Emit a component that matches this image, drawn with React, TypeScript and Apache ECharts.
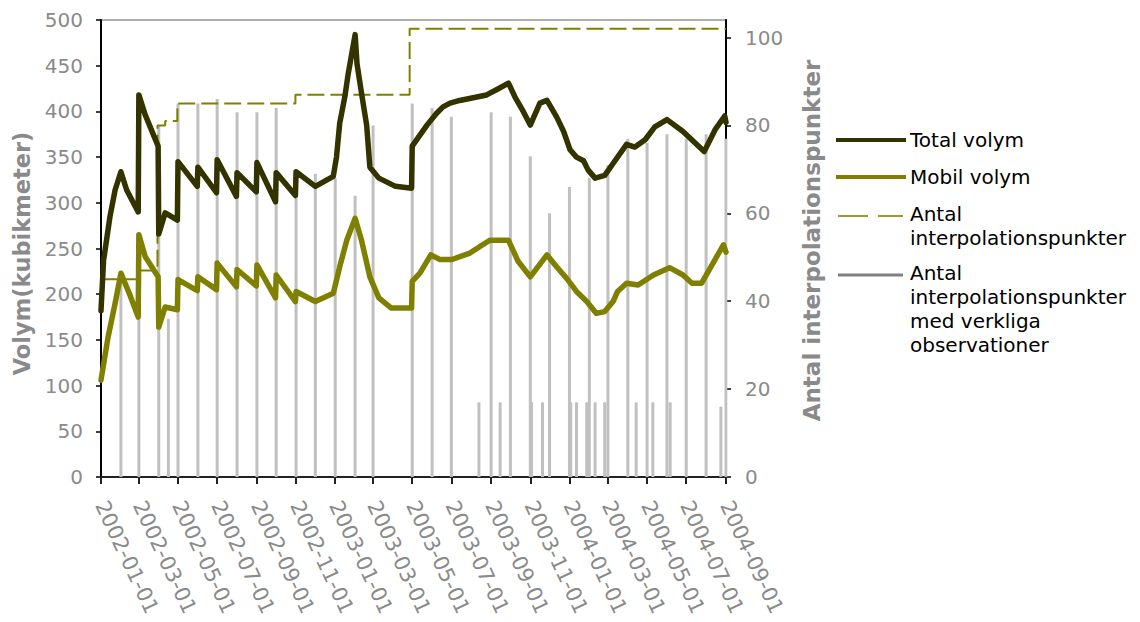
import React, { useEffect, useRef } from "react";
import * as echarts from "echarts";

// ---- Data ----
const totalVolym: [string, number][] = [
  ["2002-01-01", 182], ["2002-01-05", 237], ["2002-01-15", 285], ["2002-01-23", 314],
  ["2002-02-01", 334], ["2002-02-10", 314], ["2002-02-28", 290], ["2002-03-01", 418],
  ["2002-03-11", 396], ["2002-03-31", 362], ["2002-04-01", 266], ["2002-04-11", 289],
  ["2002-04-30", 281], ["2002-05-01", 345], ["2002-05-31", 318], ["2002-06-01", 339],
  ["2002-06-30", 311], ["2002-07-01", 347], ["2002-07-31", 307], ["2002-08-01", 333],
  ["2002-08-31", 312], ["2002-09-01", 344], ["2002-09-30", 301], ["2002-10-01", 333],
  ["2002-10-31", 308], ["2002-11-01", 334], ["2002-12-01", 318], ["2002-12-29", 329],
  ["2003-01-03", 350], ["2003-01-08", 387], ["2003-01-16", 416], ["2003-01-21", 440],
  ["2003-02-01", 484], ["2003-02-04", 452], ["2003-02-11", 420], ["2003-02-19", 385],
  ["2003-02-24", 339], ["2003-03-10", 327], ["2003-04-05", 318], ["2003-04-30", 316],
  ["2003-05-01", 362], ["2003-05-13", 374], ["2003-05-24", 385], ["2003-06-08", 398],
  ["2003-06-18", 405], ["2003-06-29", 409], ["2003-07-14", 412], ["2003-08-04", 415],
  ["2003-08-25", 418], ["2003-09-10", 424], ["2003-09-28", 431], ["2003-10-08", 416],
  ["2003-10-21", 400], ["2003-11-01", 385], ["2003-11-16", 409], ["2003-11-27", 412],
  ["2003-12-12", 394], ["2003-12-23", 378], ["2004-01-02", 358], ["2004-01-12", 350],
  ["2004-01-23", 346], ["2004-01-30", 336], ["2004-02-10", 327], ["2004-02-25", 330],
  ["2004-03-09", 343], ["2004-03-30", 364], ["2004-04-12", 361], ["2004-04-28", 369],
  ["2004-05-13", 383], ["2004-06-01", 391], ["2004-06-26", 378], ["2004-07-29", 356],
  ["2004-08-15", 380], ["2004-08-30", 395], ["2004-09-01", 388],
];

const mobilVolym: [string, number][] = [
  ["2002-01-01", 106], ["2002-01-12", 153], ["2002-01-23", 190], ["2002-02-01", 223],
  ["2002-02-14", 201], ["2002-02-28", 175], ["2002-03-01", 265], ["2002-03-11", 241],
  ["2002-03-31", 219], ["2002-04-01", 164], ["2002-04-11", 186], ["2002-04-30", 183],
  ["2002-05-01", 216], ["2002-05-31", 204], ["2002-06-01", 219], ["2002-06-30", 205],
  ["2002-07-01", 234], ["2002-07-31", 208], ["2002-08-01", 227], ["2002-08-31", 209],
  ["2002-09-01", 232], ["2002-09-30", 196], ["2002-10-01", 221], ["2002-10-31", 192],
  ["2002-11-01", 203], ["2002-12-01", 192], ["2002-12-29", 201], ["2003-01-08", 230],
  ["2003-01-19", 259], ["2003-02-01", 283], ["2003-02-11", 259], ["2003-02-24", 219],
  ["2003-03-10", 196], ["2003-03-29", 185], ["2003-04-30", 185], ["2003-05-01", 214],
  ["2003-05-13", 223], ["2003-05-30", 243], ["2003-06-13", 238], ["2003-07-02", 238],
  ["2003-07-30", 245], ["2003-08-14", 252], ["2003-08-30", 259], ["2003-09-28", 259],
  ["2003-10-13", 236], ["2003-11-01", 219], ["2003-11-27", 243], ["2003-12-12", 230],
  ["2003-12-28", 217], ["2004-01-12", 203], ["2004-01-28", 192], ["2004-02-12", 179],
  ["2004-02-25", 181], ["2004-03-09", 192], ["2004-03-16", 203], ["2004-03-30", 212],
  ["2004-04-17", 210], ["2004-05-11", 221], ["2004-06-05", 229], ["2004-06-26", 221],
  ["2004-07-10", 212], ["2004-07-25", 212], ["2004-08-28", 254], ["2004-09-01", 246],
];

const antalInterpolationspunkter: [string, number][] = [
  ["2002-01-01", 45], ["2002-03-01", 47], ["2002-03-30", 80], ["2002-04-11", 81],
  ["2002-04-30", 85], ["2002-10-31", 87], ["2003-04-27", 102], ["2004-09-01", 102],
];

const antalVerkliga: [string, number][] = [
  ["2002-02-01", 45], ["2002-03-01", 47], ["2002-04-01", 80], ["2002-04-16", 36],
  ["2002-05-01", 85], ["2002-06-01", 85], ["2002-07-01", 86], ["2002-08-01", 83],
  ["2002-09-01", 83], ["2002-10-01", 84], ["2002-11-01", 68], ["2002-12-01", 69],
  ["2003-01-01", 68], ["2003-02-01", 64], ["2003-03-01", 80], ["2003-05-01", 85],
  ["2003-06-01", 84], ["2003-07-01", 82], ["2003-08-13", 17], ["2003-09-01", 83],
  ["2003-09-15", 17], ["2003-10-01", 82], ["2003-11-01", 73], ["2003-11-03", 17],
  ["2003-11-20", 17], ["2003-12-01", 60], ["2004-01-01", 66], ["2004-01-03", 17],
  ["2004-01-12", 17], ["2004-01-28", 17], ["2004-02-01", 68], ["2004-02-10", 17],
  ["2004-02-25", 17], ["2004-03-01", 71], ["2004-04-01", 77], ["2004-04-14", 17],
  ["2004-05-01", 76], ["2004-05-10", 17], ["2004-06-01", 78], ["2004-06-06", 17],
  ["2004-07-01", 77], ["2004-08-01", 78], ["2004-08-24", 16], ["2004-09-01", 77],
];

const xTickDates = [
  "2002-01-01", "2002-03-01", "2002-05-01", "2002-07-01", "2002-09-01", "2002-11-01",
  "2003-01-01", "2003-03-01", "2003-05-01", "2003-07-01", "2003-09-01", "2003-11-01",
  "2004-01-01", "2004-03-01", "2004-05-01", "2004-07-01", "2004-09-01",
];
const rightTicks = [0, 20, 40, 60, 80, 100];

const seriesNames = {
  total: "Total volym",
  mobil: "Mobil volym",
  interp: "Antal\ninterpolationspunkter",
  obs: "Antal\ninterpolationspunkter\nmed verkliga\nobservationer",
};

const ts = (s: string) => {
  const [y, m, d] = s.split("-").map(Number);
  return Date.UTC(y, m - 1, d);
};
const pad = (n: number) => String(n).padStart(2, "0");
const fmt = (v: number) => {
  const d = new Date(v);
  return `${d.getUTCFullYear()}-${pad(d.getUTCMonth() + 1)}-${pad(d.getUTCDate())}`;
};

const FONT = "DejaVu Sans";
const GRAY = "#8a8a8a";
const DARK = "#333300";
const OLIVE = "#808000";

export default function App() {
  const ref = useRef<HTMLDivElement>(null);
  useEffect(() => {
    if (!ref.current) return;
    const chart = echarts.init(ref.current, null, { renderer: "svg" });
    const xTicks = xTickDates.map(ts);
    chart.setOption({
      animation: false,
      backgroundColor: "#ffffff",
      grid: {
        left: 101, right: 414, top: 20, bottom: 145,
        show: true, borderColor: "#b0b0b0", borderWidth: 2,
        outerBoundsMode: "none",
      },
      xAxis: {
        type: "value",
        min: ts("2002-01-01"),
        max: ts("2004-09-01"),
        axisLine: { show: true, onZero: false, lineStyle: { color: "#222", width: 2 } },
        axisTick: { show: true, length: 7, customValues: xTicks, lineStyle: { color: "#222", width: 2 } },
        splitLine: { show: false },
        axisLabel: {
          customValues: xTicks,
          formatter: (v: number) => fmt(v),
          rotate: -65,
          margin: 25,
          color: GRAY,
          fontFamily: FONT,
          fontSize: 21,
          showMinLabel: true,
          showMaxLabel: true,
          hideOverlap: false,
        },
      },
      yAxis: [
        {
          type: "value",
          min: 0, max: 500, interval: 50,
          position: "left",
          name: "Volym(kubikmeter)",
          nameLocation: "middle",
          nameGap: 66,
          nameTextStyle: {
            color: GRAY, fontFamily: FONT, fontSize: 22.5, fontWeight: "bold",
            padding: [0, 10, 0, 0],
          },
          axisLine: { show: true, lineStyle: { color: "#000", width: 2 } },
          axisTick: { show: true, length: 5, lineStyle: { color: "#000", width: 1.5 } },
          splitLine: { show: false },
          axisLabel: { color: GRAY, fontFamily: FONT, fontSize: 20, margin: 18 },
        },
        {
          type: "value",
          min: 0, max: 104,
          position: "right",
          name: "Antal interpolationspunkter",
          nameLocation: "middle",
          nameGap: 74,
          nameTextStyle: {
            color: GRAY, fontFamily: FONT, fontSize: 23, fontWeight: "bold",
            padding: [0, 0, 0, 16],
          },
          axisLine: { show: true, lineStyle: { color: "#000", width: 2 } },
          axisTick: { show: true, length: 5, customValues: rightTicks, lineStyle: { color: "#000", width: 1.5 } },
          splitLine: { show: false },
          axisLabel: { customValues: rightTicks, color: GRAY, fontFamily: FONT, fontSize: 20, margin: 19 },
        },
      ],
      series: [
        {
          name: seriesNames.obs,
          type: "bar",
          yAxisIndex: 1,
          barWidth: 3,
          itemStyle: { color: "#c0c0c0" },
          data: antalVerkliga.map(([d, v]) => [ts(d), v]),
        },
        {
          name: seriesNames.interp,
          type: "line",
          yAxisIndex: 1,
          step: "end",
          showSymbol: false,
          symbol: "none",
          lineStyle: { color: OLIVE, width: 2, type: [17, 6] },
          data: antalInterpolationspunkter.map(([d, v]) => [ts(d), v]),
        },
        {
          name: seriesNames.mobil,
          type: "line",
          yAxisIndex: 0,
          showSymbol: false,
          symbol: "none",
          lineStyle: { color: OLIVE, width: 5.5, cap: "round", join: "round" },
          data: mobilVolym.map(([d, v]) => [ts(d), v]),
        },
        {
          name: seriesNames.total,
          type: "line",
          yAxisIndex: 0,
          showSymbol: false,
          symbol: "none",
          lineStyle: { color: DARK, width: 5.5, cap: "round", join: "round" },
          data: totalVolym.map(([d, v]) => [ts(d), v]),
        },
      ],
      graphic: [
        { type: "line", shape: { x1: 836, y1: 140, x2: 906, y2: 140 }, style: { stroke: DARK, lineWidth: 4 } },
        { type: "text", x: 910, y: 140, style: { text: seriesNames.total, font: `20px '${FONT}'`, fill: "#000", verticalAlign: "middle" } },
        { type: "line", shape: { x1: 836, y1: 177, x2: 906, y2: 177 }, style: { stroke: OLIVE, lineWidth: 4 } },
        { type: "text", x: 910, y: 177, style: { text: seriesNames.mobil, font: `20px '${FONT}'`, fill: "#000", verticalAlign: "middle" } },
        { type: "line", shape: { x1: 838, y1: 216, x2: 903, y2: 216 }, style: { stroke: "#9a9a33", lineWidth: 2, lineDash: [30, 10] } },
        { type: "text", x: 910, y: 202, style: { text: seriesNames.interp, font: `20px '${FONT}'`, fill: "#000", verticalAlign: "top", lineHeight: 24 } },
        { type: "line", shape: { x1: 838, y1: 275, x2: 903, y2: 275 }, style: { stroke: "#808080", lineWidth: 3 } },
        { type: "text", x: 910, y: 261, style: { text: seriesNames.obs, font: `20px '${FONT}'`, fill: "#000", verticalAlign: "top", lineHeight: 24 } },
      ],
    });
    return () => chart.dispose();
  }, []);
  return (
    <div
      ref={ref}
      style={{ position: "fixed", left: 0, top: 0, width: 1140, height: 622, background: "#fff" }}
    />
  );
}
